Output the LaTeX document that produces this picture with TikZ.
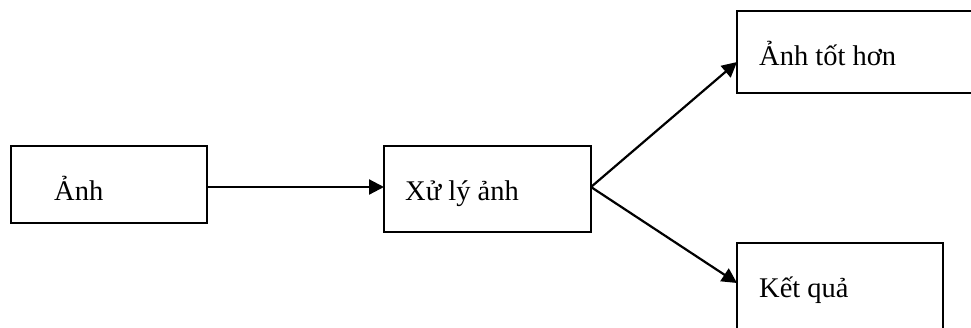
\documentclass[tikz,border=0pt]{standalone}
\usepackage{fontspec}
\setmainfont{Liberation Serif}
\usetikzlibrary{arrows.meta}
\tikzset{
  box/.style={draw=black, line width=2pt, inner sep=0pt, outer sep=0pt, anchor=north west, fill=none},
  lbl/.style={anchor=base west, inner sep=0pt, font=\fontsize{28.5}{34}\selectfont},
  arr/.style={line width=2.2pt, -{Triangle[length=15pt,width=15pt]}}
}
\begin{document}
\begin{tikzpicture}[x=1pt,y=-1pt]
\useasboundingbox (0,0) rectangle (971,327);
\clip (0,0) rectangle (971,327);
\node[box, minimum width=196pt, minimum height=77pt] (b1) at (11,146) {};
\node[box, minimum width=207pt, minimum height=86pt] (b2) at (384,146) {};
\node[box, minimum width=250pt, minimum height=82pt] (b3) at (737,11) {};
\node[box, minimum width=206pt, minimum height=110pt] (b4) at (737,243) {};
\node[lbl] (t1) at (54,200) {Ảnh};
\node[lbl] (t2) at (405,200) {Xử lý ảnh};
\node[lbl] (t3) at (759,65) {Ảnh tốt hơn};
\node[lbl] (t4) at (759,297) {Kết quả};
\coordinate (s2) at (591,187);
\coordinate (e3) at (737,62);
\coordinate (e4) at (737,283);
\draw[arr] (b1.east |- s2) -- (b2.west |- s2);
\draw[arr] (s2) -- (e3);
\draw[arr] (s2) -- (e4);
\end{tikzpicture}
\end{document}
